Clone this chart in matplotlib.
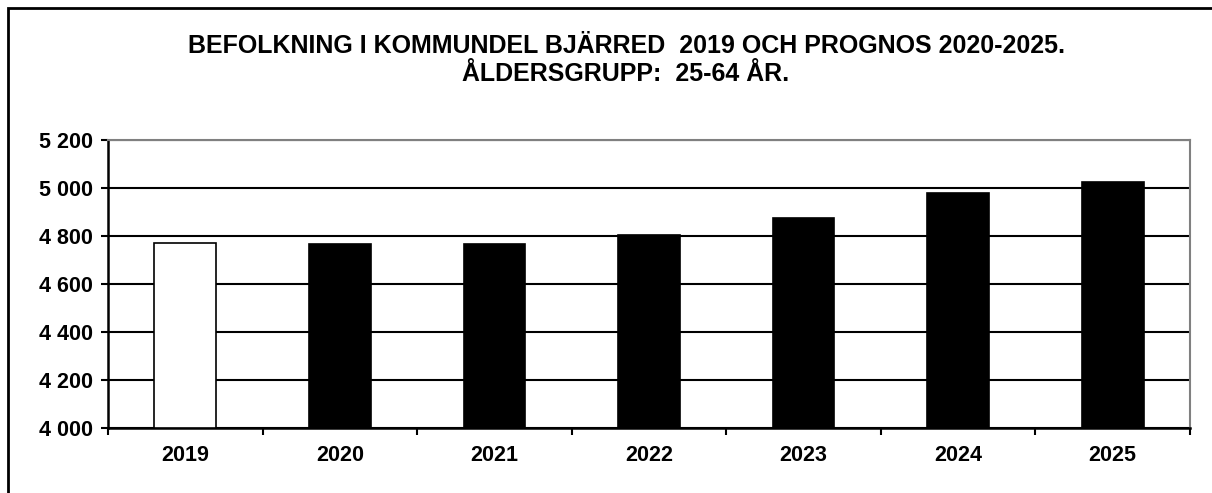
import matplotlib
matplotlib.use("Agg")
import matplotlib.pyplot as plt
from matplotlib.ticker import FuncFormatter, FixedLocator
from matplotlib.patches import Rectangle

years = ["2019", "2020", "2021", "2022", "2023", "2024", "2025"]
values = [4769, 4768, 4767, 4803, 4875, 4980, 5027]
fill_colors = ["white", "black", "black", "black", "black", "black", "black"]
title_text = "BEFOLKNING I KOMMUNDEL BJÄRRED  2019 OCH PROGNOS 2020-2025.\nÅLDERSGRUPP:  25-64 ÅR."
y_ticks = [4000, 4200, 4400, 4600, 4800, 5000, 5200]

plt.rcParams['font.family'] = ['Liberation Sans', 'DejaVu Sans']

W, H = 1212, 493
fig = plt.figure(figsize=(W / 100, H / 100), dpi=100)

# outer frame
fig.patches.append(Rectangle((8 / W, -0.1), 1.2, (H - 8) / H + 0.1, transform=fig.transFigure,
                             fill=False, edgecolor="black", linewidth=2.0, figure=fig))

left, right, top, bottom = 108, 1190, 140, 428
ax = fig.add_axes([left / W, 1 - bottom / H, (right - left) / W, (bottom - top) / H])

x = list(range(len(years)))
ax.bar(x, [v - 4000 for v in values], bottom=4000, width=0.40, color=fill_colors,
       edgecolor="black", linewidth=1.2, zorder=3)

ax.set_xlim(-0.5, len(years) - 0.5)
ax.set_ylim(4000, 5200)
ax.yaxis.set_major_locator(FixedLocator(y_ticks))
ax.yaxis.set_major_formatter(FuncFormatter(lambda v, p: f"{int(v):,}".replace(",", " ")))
ax.set_xticks(x)
ax.set_xticklabels(years)
ax.xaxis.set_minor_locator(FixedLocator([i - 0.5 for i in range(len(years) + 1)]))
ax.tick_params(axis="x", which="major", length=0, pad=12)
ax.tick_params(axis="x", which="minor", length=5, width=1.5, direction="out")
ax.tick_params(axis="y", length=5, width=1.5, direction="out", pad=6)
for lbl in ax.get_xticklabels() + ax.get_yticklabels():
    lbl.set_fontweight("bold")
    lbl.set_fontsize(15.5)

ax.grid(axis="y", color="black", linewidth=1.5, zorder=1)
ax.set_axisbelow(True)
ax.spines["left"].set_linewidth(1.8)
ax.spines["bottom"].set_linewidth(1.8)
ax.spines["top"].set_color("#808080")
ax.spines["right"].set_color("#808080")
ax.spines["top"].set_linewidth(1.5)
ax.spines["right"].set_linewidth(1.5)

fig.text(626 / W, 1 - 60 / H, title_text, ha="center", va="center", fontsize=18,
         fontweight="bold", linespacing=1.2)

fig.savefig("out.png", dpi=100)
